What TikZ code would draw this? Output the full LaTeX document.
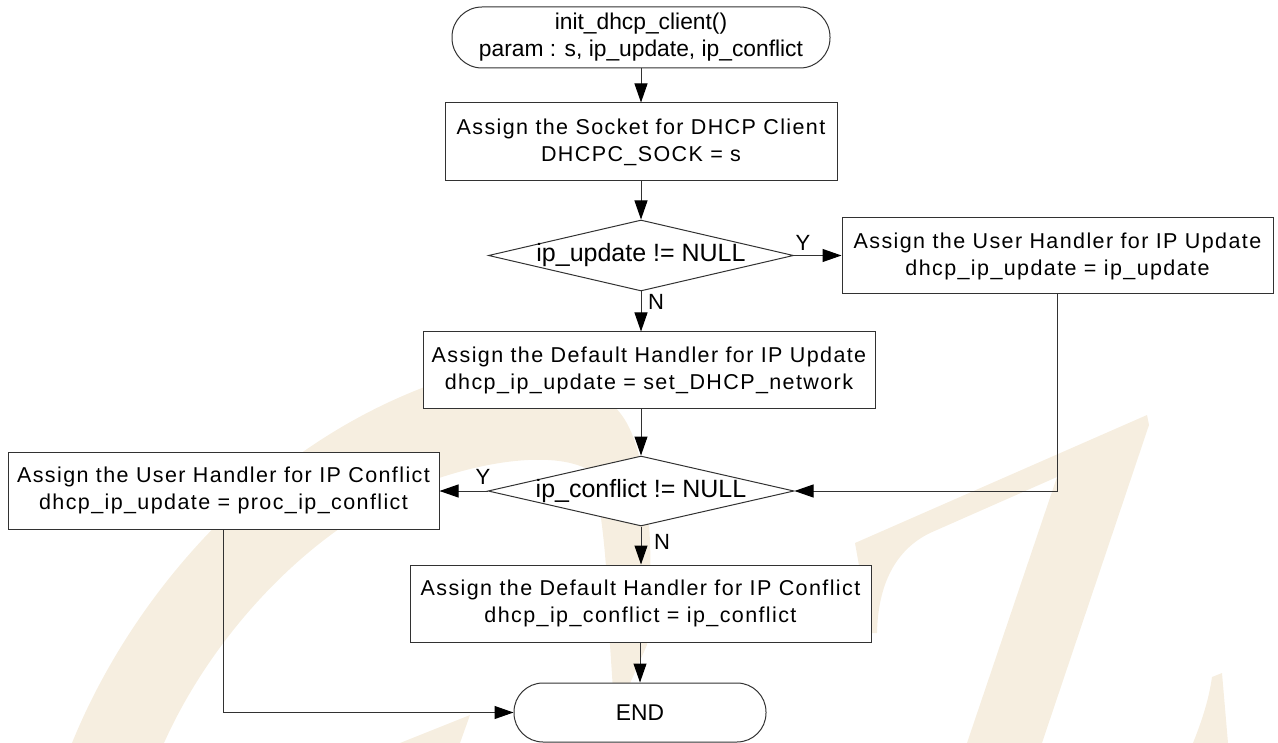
\documentclass[tikz,border=0pt]{standalone}
\usepackage{fontspec}
\setmainfont{Liberation Sans}
\newfontfamily\boxfont[LetterSpace=6.5]{Liberation Sans}
\usetikzlibrary{arrows.meta,shapes.geometric}
\definecolor{wm}{RGB}{246,238,224}
\definecolor{ink}{RGB}{50,50,50}
\begin{document}
\begin{tikzpicture}[x=1pt,y=-1pt,
  ln/.style={draw=ink, line width=1pt},
  procbox/.style={ln, fill=white, rectangle, inner sep=0pt, align=center,
    font=\boxfont\fontsize{21.5}{27}\selectfont},
  term/.style={ln, fill=white, rectangle, inner sep=0pt, align=center,
    font=\fontsize{22.8}{27}\selectfont},
  decision/.style={ln, fill=white, diamond, inner sep=0pt,
    minimum width=305pt, minimum height=71pt, font=\fontsize{25}{25}\selectfont},
  arr/.style={ln, -{Triangle[length=19pt,width=13pt,color=black]}},
  yn/.style={inner sep=0pt, font=\fontsize{22}{22}\selectfont}
]
\useasboundingbox (0,0) rectangle (1278,743);
% watermark
\fill[wm] (72,743) .. controls (130,600) and (260,440) .. (450,378)
  .. controls (540,360) and (600,380) .. (625,420)
  .. controls (650,460) and (655,560) .. (647,645)
  -- (627,690) -- (613,690) -- (610,645)
  .. controls (608,590) and (605,520) .. (592,472)
  .. controls (560,450) and (480,458) .. (400,493)
  .. controls (300,540) and (210,640) .. (164,743) -- cycle;
\fill[wm] (470,715) -- (460,743) -- (400,743) -- cycle;
\fill[wm] (855,543) -- (1147,415) -- (1149,425) -- (1042,743) -- (967,743)
  -- (1057,477) -- (930,533) .. controls (895,550) and (878,585) .. (877,633)
  -- (871,633) -- cycle;
\fill[wm] (1212,677) -- (1222,673) -- (1228,743) -- (1193,743)
  .. controls (1203,718) and (1209,698) .. (1212,677) -- cycle;
% nodes
\node[term, rounded corners=30pt, minimum width=378pt, minimum height=61pt] (start) at (641,37.5)
  {init\_dhcp\_client()\\param : s, ip\_update, ip\_conflict};
\node[procbox, minimum width=392pt, minimum height=78pt] (box1) at (641,142)
  {Assign the Socket for DHCP Client\\DHCPC\_SOCK = s};
\node[decision] (d1) at (641,255.5) {\makebox[0pt][c]{ip\_update != NULL}};
\node[procbox, minimum width=431pt, minimum height=76pt] (ubox1) at (1057.5,256)
  {Assign the User Handler for IP Update\\dhcp\_ip\_update = ip\_update};
\node[procbox, minimum width=452pt, minimum height=77pt] (dbox1) at (649,370.5)
  {Assign the Default Handler for IP Update\\dhcp\_ip\_update = set\_DHCP\_network};
\node[decision, minimum width=306pt, minimum height=70pt] (d2) at (641,491) {\makebox[0pt][c]{ip\_conflict != NULL}};
\node[procbox, minimum width=431pt, minimum height=77pt] (cbox) at (223.5,490.5)
  {Assign the User Handler for IP Conflict\\dhcp\_ip\_update = proc\_ip\_conflict};
\node[procbox, minimum width=461pt, minimum height=77pt] (dbox2) at (640.5,603.5)
  {Assign the Default Handler for IP Conflict\\dhcp\_ip\_conflict = ip\_conflict};
\node[term, rounded corners=29pt, minimum width=252pt, minimum height=59pt] (endn) at (640,712.5) {END};
% labels
\node[yn] (ly1) at (803,243) {Y};
\node[yn] (ln1) at (656,302) {N};
\node[yn] (ly2) at (483,477) {Y};
\node[yn] (ln2) at (662,542) {N};
% connectors
\draw[arr] (start) -- (box1);
\draw[arr] (box1) -- (d1);
\draw[arr] (d1.east) -- (d1.east -| ubox1.west);
\draw[arr] (d1.south) -- (d1.south |- dbox1.north);
\draw[arr] (d2.north |- dbox1.south) -- (d2.north);
\draw[arr] (ubox1.south) |- (d2.east);
\draw[arr] (d2.west) -- (d2.west -| cbox.east);
\draw[arr] (d2.south) -- (d2.south |- dbox2.north);
\draw[arr] (endn.north |- dbox2.south) -- (endn.north);
\draw[arr] (cbox.south) |- (endn.west);
\end{tikzpicture}
\end{document}
